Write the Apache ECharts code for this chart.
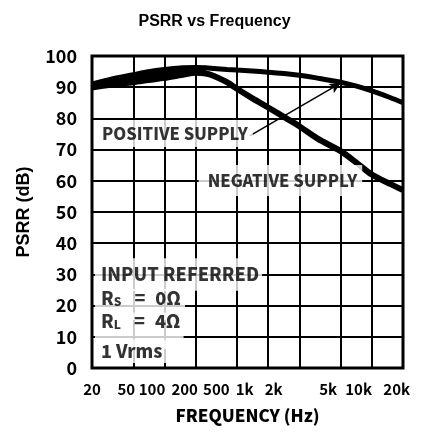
<!DOCTYPE html>
<html><head><meta charset="utf-8">
<script src="https://cdn.jsdelivr.net/npm/echarts@6/dist/echarts.min.js"></script>
<style>html,body{margin:0;padding:0;background:#fff}#c{width:429px;height:435px}</style>
</head><body><div id="c"></div>
<script>
// ---- data ----
const FREQ = [20, 30, 50, 70, 100, 150, 200, 250, 300, 400, 500, 700, 1000, 1500, 2000, 3000, 5000, 7000, 10000, 15000, 20000];
const POSITIVE_SUPPLY = [91, 92.5, 94, 95, 95.7, 96.2, 96.3, 96.2, 96, 95.7, 95.5, 95.2, 94.8, 94.3, 93.8, 92.9, 91.6, 90.4, 88.8, 86.7, 85];
const NEGATIVE_SUPPLY = [89.9, 90.8, 91.6, 92.3, 93, 94, 94.6, 94.4, 93.6, 91.6, 89.5, 86.5, 83.5, 80, 77.5, 73.5, 69.5, 66, 62, 59, 57];
const BAND_END_HZ = 250; // curves merge into one black band up to here
const X_TICKS = [20, 50, 100, 200, 500, 1000, 2000, 5000, 10000, 20000];
const X_TICK_LABELS = ['20', '50', '100', '200', '500', '1k', '2k', '5k', '10k', '20k'];
const Y_MIN = 0, Y_MAX = 100, Y_STEP = 10;

// ---- styling ----
const NARROW = "'Noto Sans CJK SC', sans-serif";
const NARROW_W = 900;
const WIDE = "'Liberation Sans', Arial, sans-serif";
const X_LABEL_SHIFT = [0, 7, 12.5, 11, 20.6, 23.5, 25.7, 12.5, 13.2, 6.3]; // px to the left of tick
const lg = Math.log10;

const rich = {};
X_LABEL_SHIFT.forEach((s, i) => {
  rich['s' + i] = { fontFamily: NARROW, fontWeight: 700, fontSize: 15, color: '#000', padding: [0, 2 * s, 0, 0] };
});

function txt(size) { return { fontFamily: NARROW, fontWeight: NARROW_W, fontSize: size, color: '#000', lineHeight: 18 }; }
function note(text, x, y, dist, pad, size, richExtra) {
  return {
    value: [x, y],
    label: Object.assign({
      show: true, position: 'right', distance: dist, formatter: text,
      backgroundColor: '#fff', padding: pad
    }, txt(size), richExtra ? { rich: richExtra } : {})
  };
}
const subRich = {
  b: txt(18),
  sub: Object.assign(txt(12), { verticalAlign: 'bottom', padding: [6, 0, 0, 0] }),
  eq: Object.assign(txt(18), { padding: [0, 10, 0, 13] })
};
const NOTES = [
  note('POSITIVE SUPPLY', lg(20), 75.2, 2, [5, 5, 4, 8], 16.5),
  note('NEGATIVE SUPPLY', lg(200), 60.1, 3, [7, 5, 6, 9], 16.5),
  note('INPUT REFERRED', lg(20), 30.0, 3, [7, 3, 7.5, 6], 18),
  note('{b|R}{sub|S}{eq|=}{b|0Ω}', lg(20), 20.35, 3, [0, 4, 13, 6], 18, subRich),
  note('{b|R}{sub|L}{eq|=}{b|4Ω}', lg(20), 11.94, 3, [0, 3, 18.5, 6], 18, subRich),
  note('1 Vrms', lg(20), 5.37, 3, [0, 6, 5.5, 6], 18)
];

const chart = echarts.init(document.getElementById('c'), null, { renderer: 'canvas' });
chart.setOption({
  animation: false,
  backgroundColor: '#fff',
  title: {
    text: 'PSRR vs Frequency', left: 'center', top: 9,
    textStyle: { fontFamily: WIDE, fontWeight: 'bold', fontSize: 16, color: '#000' }
  },
  grid: { left: 92, right: 26, top: 56, bottom: 67, show: true, borderColor: '#000', borderWidth: 3, backgroundColor: '#fff' },
  xAxis: {
    type: 'value', min: lg(20), max: lg(20000),
    name: 'FREQUENCY (Hz)', nameLocation: 'middle', nameGap: 39,
    nameTextStyle: { fontFamily: NARROW, fontWeight: NARROW_W, fontSize: 17, color: '#000' },
    axisLine: { show: false },
    axisTick: { show: false, customValues: X_TICKS.map(lg) },
    splitLine: { show: true, lineStyle: { color: '#000', width: 2 } },
    axisLabel: {
      customValues: X_TICKS.map(lg), margin: 14,
      fontFamily: NARROW, fontWeight: 700, fontSize: 15, color: '#000',
      formatter: v => {
        const i = X_TICKS.findIndex(t => Math.abs(lg(t) - v) < 1e-6);
        return i < 0 ? '' : '{s' + i + '|' + X_TICK_LABELS[i] + '}';
      },
      rich: rich
    }
  },
  yAxis: {
    type: 'value', min: Y_MIN, max: Y_MAX, interval: Y_STEP,
    name: 'PSRR (dB)', nameLocation: 'middle', nameGap: 59, nameRotate: 90,
    nameTextStyle: { fontFamily: WIDE, fontWeight: 'bold', fontSize: 18, color: '#000' },
    axisLine: { show: false }, axisTick: { show: false },
    splitLine: { show: true, lineStyle: { color: '#000', width: 2 } },
    axisLabel: { margin: 15, fontFamily: NARROW, fontWeight: 700, fontSize: 18, color: '#000' }
  },
  series: [
    {
      type: 'custom', z: 3,
      data: [[lg(20), POSITIVE_SUPPLY[0]]],
      renderItem: (params, api) => {
        const pts = [];
        FREQ.forEach((f, i) => { if (f <= BAND_END_HZ) pts.push(api.coord([lg(f), POSITIVE_SUPPLY[i]])); });
        for (let i = FREQ.length - 1; i >= 0; i--) {
          if (FREQ[i] <= BAND_END_HZ) pts.push(api.coord([lg(FREQ[i]), NEGATIVE_SUPPLY[i]]));
        }
        return { type: 'polygon', shape: { points: pts }, style: { fill: '#000' } };
      }
    },
    {
      name: 'Positive Supply', type: 'line', z: 4, showSymbol: false, smooth: 0.3,
      data: FREQ.map((f, i) => [lg(f), POSITIVE_SUPPLY[i]]),
      lineStyle: { color: '#000', width: 5 }
    },
    {
      name: 'Negative Supply', type: 'line', z: 4, showSymbol: false, smooth: 0.3,
      data: FREQ.map((f, i) => [lg(f), NEGATIVE_SUPPLY[i]]),
      lineStyle: { color: '#000', width: 6 }
    },
    {
      type: 'scatter', z: 5, symbolSize: 0, silent: true,
      data: NOTES,
      markLine: {
        silent: true, symbol: ['none', 'arrow'], symbolSize: [8, 11],
        label: { show: false },
        lineStyle: { color: '#000', width: 1.5, type: 'solid' },
        data: [[{ coord: [lg(664), 74.4] }, { coord: [lg(5000), 91.3] }]]
      }
    }
  ]
});
</script></body></html>
